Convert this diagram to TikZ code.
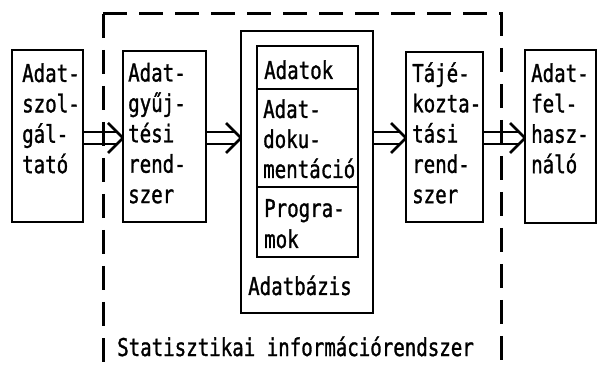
\documentclass[tikz,border=0pt]{standalone}
\usepackage{fontspec}
\setmainfont[FakeStretch=0.78,FakeBold=1.2]{DejaVu Sans Mono}
\usetikzlibrary{calc}
\newcommand\hollowarr[2]{%
  \draw[arrline] ($(#1.east|-ay)+(0,-6)$) -- ($(#2.west|-ay)+(-7,-6)$);
  \draw[arrline] ($(#1.east|-ay)+(0,6)$) -- ($(#2.west|-ay)+(-7,6)$);
  \draw[arrline] ($(#2.west|-ay)+(-15,-15)$) -- (#2.west|-ay) -- ($(#2.west|-ay)+(-15,15)$);
}
\begin{document}
\begin{tikzpicture}[x=1pt,y=-1pt,
  box/.style={draw, line width=2.8pt, inner sep=0pt, outer sep=0pt, anchor=north west},
  txt/.style={inner sep=0pt, anchor=base west, font=\fontsize{24.5}{28}\selectfont},
  frame/.style={line width=3pt, dash pattern=on 24pt off 12pt},
  arrline/.style={line width=2.6pt, line join=round},
]
\useasboundingbox (0,0) rectangle (597,371);
\coordinate (ay) at (0,138);

% dashed system frame
\coordinate (fa) at (103,14);
\coordinate (fb) at (501,14);
\coordinate (fc) at (103,371);
\coordinate (fd) at (501,371);
\draw[frame] (fa) -- (fc);
\draw[frame] (fa) -- (fb) -- (fd);

% boxes
\node[box, minimum width=71pt, minimum height=172pt] (b1) at (12,50) {};
\node[box, minimum width=83pt, minimum height=171pt] (b2) at (123,51) {};
\node[box, minimum width=132pt, minimum height=282pt] (db) at (241,31) {};
\node[box, minimum width=101pt, minimum height=43pt] (i1) at (257,46) {};
\node[box, minimum width=101pt, minimum height=98pt] (i2) at (257,89) {};
\node[box, minimum width=101pt, minimum height=70pt] (i3) at (257,187) {};
\node[box, minimum width=77pt, minimum height=170pt] (b4) at (406,52) {};
\node[box, minimum width=71pt, minimum height=173pt] (b5) at (525,50) {};

% texts
\foreach \t [count=\i from 0] in {Adat-,szol-,gál-,tató}
  \node[txt] (t1\i) at (22,82+30.4*\i) {\t};
\foreach \t [count=\i from 0] in {Adat-,gyűj-,tési,rend-,szer}
  \node[txt] (t2\i) at (128,81.5+30.4*\i) {\t};
\node[txt] (ta) at (264,79) {Adatok};
\foreach \t [count=\i from 0] in {Adat-,doku-,mentáció}
  \node[txt] (tb\i) at (263,118+30*\i) {\t};
\foreach \t [count=\i from 0] in {Progra-,mok}
  \node[txt] (tc\i) at (264,217+31*\i) {\t};
\node[txt] (td) at (248,295) {Adatbázis};
\foreach \t [count=\i from 0] in {Tájé-,kozta-,tási,rend-,szer}
  \node[txt] (t4\i) at (412,82+30.3*\i) {\t};
\foreach \t [count=\i from 0] in {Adat-,fel-,hasz-,náló}
  \node[txt] (t5\i) at (531,82+30.4*\i) {\t};
\node[txt] (ts) at (117,356) {Statisztikai információrendszer};

% hollow arrows
\hollowarr{b1}{b2}
\hollowarr{b2}{db}
\hollowarr{db}{b4}
\hollowarr{b4}{b5}
\end{tikzpicture}
\end{document}
